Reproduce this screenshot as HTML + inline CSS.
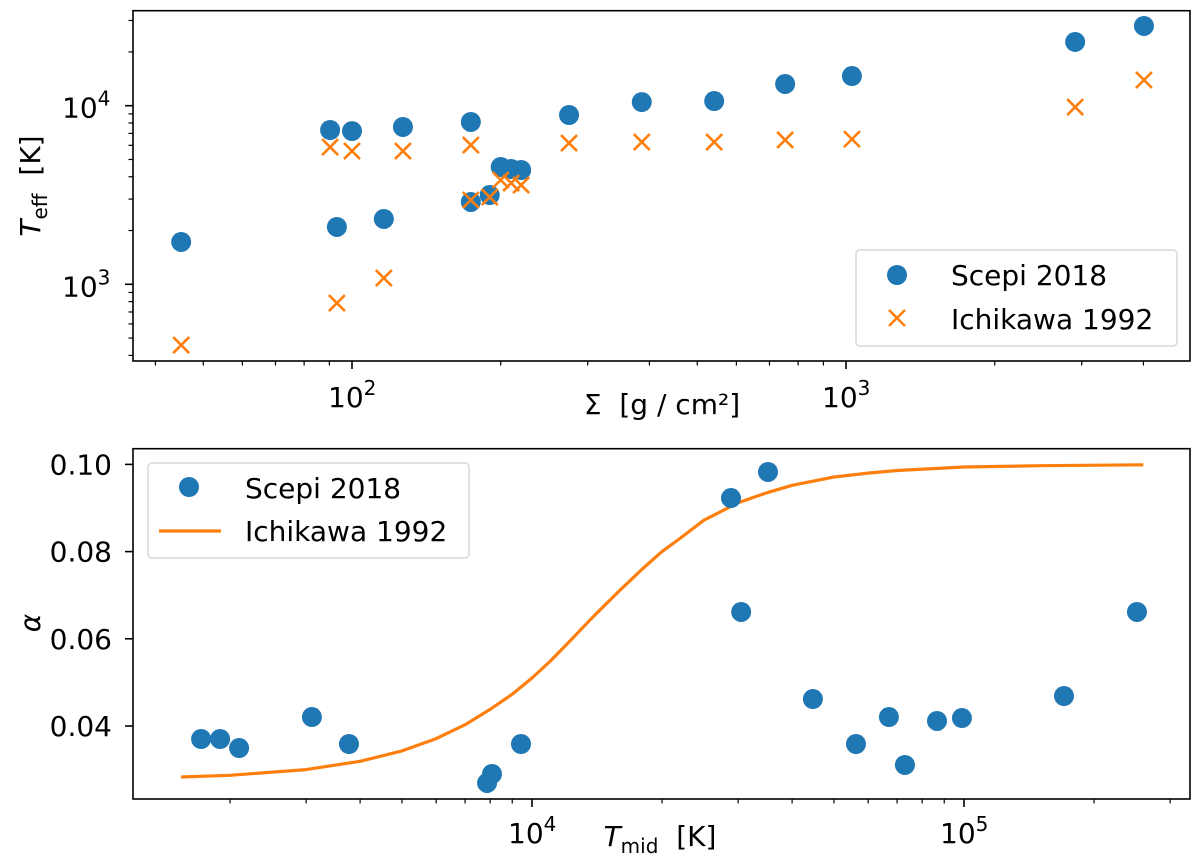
<!DOCTYPE html>
<html><head><meta charset="utf-8"><style>
html,body{margin:0;padding:0;background:#fff;}
svg{display:block;font-family:"DejaVu Sans","Liberation Sans",sans-serif;}
</style></head><body>
<svg id="fig" width="1200" height="866" viewBox="0 0 1200 866" xmlns="http://www.w3.org/2000/svg">
<rect width="1200" height="866" fill="#fff"/>
<g id="topPanel"></g>
<g id="botPanel"></g>
</svg>
<script>
// ---- top panel data ----
const sigma = [45.1,90.3,93.2,100,116,126.8,174,174,190,200,210,220,275,386,541,753,1028,2910,4010];
const teffScepi = [1726,7310,2094,7210,2322,7600,8110,2890,3162,4540,4420,4365,8870,10480,10620,13230,14660,22750,27950];
const teffIchi = [457,5870,785,5570,1084,5570,6020,2965,3080,3837,3690,3595,6180,6260,6260,6430,6500,9830,13930];
const topXTicks = [100,1000];
const topYTicks = [1000,10000];
// ---- bottom panel data ----
const tmid = [1714,1897,2099,3094,3770,7870,8080,9430,28880,30490,35180,44690,56230,67020,72990,86600,98900,170400,251400];
const alphaScepi = [0.03702,0.03702,0.03495,0.04206,0.03587,0.02693,0.02899,0.03587,0.09229,0.06615,0.09826,0.04619,0.03587,0.04206,0.03106,0.04115,0.04183,0.04688,0.06615];
const curveT = [1540,2000,3000,4000,5000,6000,7000,8000,9000,10000,11000,12000,13000,14000,16000,18000,20000,22000,25000,30000,35000,40000,50000,60000,70000,100000,150000,260000];
const curveAlpha = [0.0283,0.0287,0.0300,0.0319,0.0343,0.0371,0.0403,0.0438,0.0473,0.0510,0.0548,0.0586,0.0622,0.0655,0.0712,0.0760,0.0800,0.0830,0.0872,0.0912,0.0935,0.0952,0.0971,0.0980,0.0986,0.0994,0.0997,0.0999];
const botXTicks = [10000,100000];
const botYTicks = [0.04,0.06,0.08,0.10];
const botYLabels = ["0.04","0.06","0.08","0.10"];

const NS="http://www.w3.org/2000/svg";
function mk(parent,tag,attrs,text){const e=document.createElementNS(NS,tag);for(const k in attrs)e.setAttribute(k,attrs[k]);if(text!==undefined)e.textContent=text;parent.appendChild(e);return e;}
const BLUE="#1f77b4",ORANGE="#ff7f0e";
const FS='28';

const L=133,R=1190;
const tx=v=>352+494*(Math.log10(v)-2);
const ty=v=>105.7-178.6*(Math.log10(v)-4);
const T0=10.7,T1=361;
const bx=v=>532+432*(Math.log10(v)-4);
const by=v=>726-(v-0.04)*4360;
const B0=448.7,B1=799;

const topG=document.getElementById('topPanel');
const botG=document.getElementById('botPanel');

function sup(g,x,y,exp,name){
  const t=mk(g,'text',{x:x,y:y,'font-size':FS,fill:'#000'});
  
  
  mk(t,'tspan',{},'10');
  mk(t,'tspan',{dy:'-12','font-size':'20'},String(exp));
  return t;
}

// ---- TOP PANEL ----
for(let d=1;d<=3;d++){for(let m=2;m<=9;m++){const v=m*Math.pow(10,d);const px=tx(v);if(px<L||px>R)continue;
  const tk=mk(topG,'line',{x1:px,x2:px,y1:T1,y2:T1+4.5,stroke:'#000','stroke-width':1.2});
  
  }}
for(let d=2;d<=4;d++){for(let m=2;m<=9;m++){const v=m*Math.pow(10,d);const py=ty(v);if(py<T0||py>T1)continue;
  const tk=mk(topG,'line',{x1:L-4.5,x2:L,y1:py,y2:py,stroke:'#000','stroke-width':1.2});
  
  }}
topXTicks.forEach(v=>{const px=tx(v);
  const tk=mk(topG,'line',{x1:px,x2:px,y1:T1,y2:T1+8,stroke:'#000','stroke-width':1.6});
  
  
  sup(topG,px-24,T1+46,Math.round(Math.log10(v)),'x-tick-label');});
topYTicks.forEach(v=>{const py=ty(v);
  const tk=mk(topG,'line',{x1:L-8,x2:L,y1:py,y2:py,stroke:'#000','stroke-width':1.6});
  
  
  sup(topG,62,py+12,Math.round(Math.log10(v)),'y-tick-label');});
sigma.forEach((s,i)=>{
  const c=mk(topG,'circle',{cx:tx(s),cy:ty(teffScepi[i]),r:10,fill:BLUE});
  
  
});
sigma.forEach((s,i)=>{
  const x=tx(s),y=ty(teffIchi[i]),k=8;
  const p=mk(topG,'path',{d:`M${x-k},${y-k}L${x+k},${y+k}M${x-k},${y+k}L${x+k},${y-k}`,stroke:ORANGE,'stroke-width':2.6,fill:'none'});
  
  
});
{const f=mk(topG,'rect',{x:L,y:T0,width:R-L,height:T1-T0,fill:'none',stroke:'#000','stroke-width':1.6});

}
{const lg=mk(topG,'g',{});


mk(lg,'rect',{x:856,y:250,width:321,height:96,rx:4,fill:'#fff','fill-opacity':0.8,stroke:'#d8d8d8','stroke-width':1.5});
mk(lg,'circle',{cx:897,cy:275,r:10,fill:BLUE});
mk(lg,'path',{d:'M889,310L905,326M889,326L905,310',stroke:ORANGE,'stroke-width':2.6});
const a=mk(lg,'text',{x:951,y:285,'font-size':FS},'Scepi 2018');


const b=mk(lg,'text',{x:951,y:329,'font-size':FS},'Ichikawa 1992');

}
{const t=mk(topG,'text',{x:662,y:414,'text-anchor':'middle','font-size':FS},'Σ\u00a0\u00a0[g / cm²]');


const y=mk(topG,'text',{transform:'translate(40,186) rotate(-90)','text-anchor':'middle','font-size':FS});


mk(y,'tspan',{'font-style':'italic'},'T');
mk(y,'tspan',{dy:'7','font-size':'20'},'eff');
mk(y,'tspan',{dy:'-7'},'\u00a0\u00a0[K]');}

// ---- BOTTOM PANEL ----
for(let d=3;d<=5;d++){for(let m=2;m<=9;m++){const v=m*Math.pow(10,d);const px=bx(v);if(px<L||px>R)continue;
  const tk=mk(botG,'line',{x1:px,x2:px,y1:B1,y2:B1+4.5,stroke:'#000','stroke-width':1.2});
  
  }}
botXTicks.forEach(v=>{const px=bx(v);
  const tk=mk(botG,'line',{x1:px,x2:px,y1:B1,y2:B1+8,stroke:'#000','stroke-width':1.6});
  
  
  sup(botG,px-24,B1+44,Math.round(Math.log10(v)),'x-tick-label');});
botYTicks.forEach((v,i)=>{const py=by(v);
  const tk=mk(botG,'line',{x1:L-8,x2:L,y1:py,y2:py,stroke:'#000','stroke-width':1.6});
  
  
  const t=mk(botG,'text',{x:112,y:py+10,'text-anchor':'end','font-size':FS},botYLabels[i]);
  
  });
{let d='';curveT.forEach((t,i)=>{d+=(i?'L':'M')+bx(t).toFixed(1)+','+by(curveAlpha[i]).toFixed(1);});
const p=mk(botG,'path',{d:d,stroke:ORANGE,'stroke-width':3.2,fill:'none','stroke-linejoin':'round'});

}
tmid.forEach((t,i)=>{
  const c=mk(botG,'circle',{cx:bx(t),cy:by(alphaScepi[i]),r:10,fill:BLUE});
  
  
});
{const f=mk(botG,'rect',{x:L,y:B0,width:R-L,height:B1-B0,fill:'none',stroke:'#000','stroke-width':1.6});

}
{const lg=mk(botG,'g',{});


mk(lg,'rect',{x:148,y:463,width:321,height:95,rx:4,fill:'#fff','fill-opacity':0.8,stroke:'#d8d8d8','stroke-width':1.5});
mk(lg,'circle',{cx:189,cy:487,r:10,fill:BLUE});
mk(lg,'line',{x1:159,x2:221,y1:531,y2:531,stroke:ORANGE,'stroke-width':3.2});
const a=mk(lg,'text',{x:245,y:498,'font-size':FS},'Scepi 2018');


const b=mk(lg,'text',{x:245,y:541,'font-size':FS},'Ichikawa 1992');

}
{const t=mk(botG,'text',{x:660,y:846,'text-anchor':'middle','font-size':FS});


mk(t,'tspan',{'font-style':'italic'},'T');
mk(t,'tspan',{dy:'7','font-size':'20'},'mid');
mk(t,'tspan',{dy:'-7'},'\u00a0\u00a0[K]');
const y=mk(botG,'text',{transform:'translate(40,623) rotate(-90)','text-anchor':'middle','font-size':FS,'font-style':'italic'},'α');

}
</script>
</body></html>
